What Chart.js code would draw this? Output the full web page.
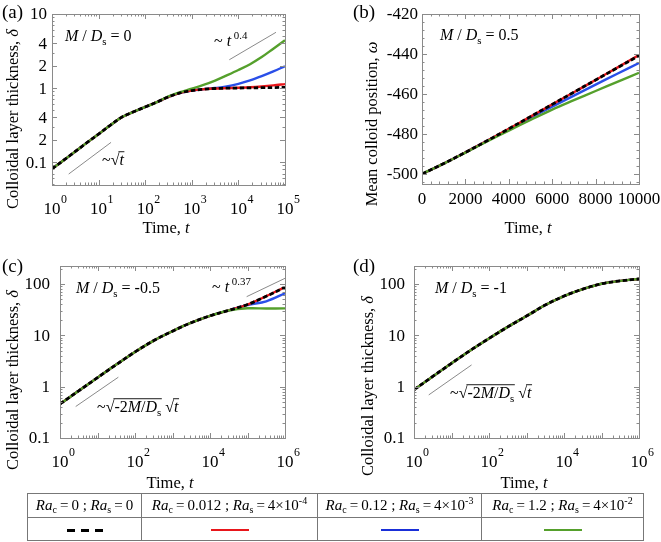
<!DOCTYPE html>
<html><head><meta charset="utf-8">
<script src="https://cdn.jsdelivr.net/npm/chart.js@4.4.1/dist/chart.umd.min.js"></script>
<style>
html,body{margin:0;padding:0;background:#fff}
#wrap{position:relative;width:661px;height:542px;overflow:hidden;font-family:"Liberation Serif","Times New Roman",serif;color:#000}
#wrap canvas{position:absolute;left:0;top:0}
#leg{position:absolute;left:27px;top:493px;width:616px;border-collapse:collapse;table-layout:fixed;font-size:15px}
#leg td{border:1px solid #777;text-align:center;padding:0;white-space:nowrap;line-height:15px}
#leg sub,#leg sup{font-size:10px;line-height:0}
#leg sub{vertical-align:-3px}
#leg sup{vertical-align:6px}
.smp{display:inline-block;width:38px;height:2.5px;vertical-align:middle}
.dsh{display:inline-block;width:36px;height:3px;vertical-align:middle;background:repeating-linear-gradient(90deg,#000 0 8px,transparent 8px 14px)}
</style></head>
<body><div id="wrap">
<canvas id="cA" width="661" height="542"></canvas>
<canvas id="cB" width="661" height="542"></canvas>
<canvas id="cC" width="661" height="542"></canvas>
<canvas id="cD" width="661" height="542"></canvas>
<table id="leg">
<colgroup><col style="width:114px"><col style="width:176px"><col style="width:164px"><col style="width:162px"></colgroup>
<tr style="height:24px">
<td><i>Ra</i><sub>c</sub>&thinsp;=&thinsp;0 ; <i>Ra</i><sub>s</sub>&thinsp;=&thinsp;0</td>
<td><i>Ra</i><sub>c</sub>&thinsp;=&thinsp;0.012 ; <i>Ra</i><sub>s</sub>&thinsp;=&thinsp;4×10<sup>-4</sup></td>
<td><i>Ra</i><sub>c</sub>&thinsp;=&thinsp;0.12 ; <i>Ra</i><sub>s</sub>&thinsp;=&thinsp;4×10<sup>-3</sup></td>
<td><i>Ra</i><sub>c</sub>&thinsp;=&thinsp;1.2 ; <i>Ra</i><sub>s</sub>&thinsp;=&thinsp;4×10<sup>-2</sup></td>
</tr>
<tr style="height:23px">
<td><span class="dsh"></span></td>
<td><span class="smp" style="background:#e8161b"></span></td>
<td><span class="smp" style="background:#1a2fd8"></span></td>
<td><span class="smp" style="background:#55a02c"></span></td>
</tr>
</table>
</div>
<script>
// ---------- DATA ----------
// Panel (a): M/Ds = 0, log-log
const timeA = [1, 1.78, 3.16, 5.62, 10, 17.8, 31.6, 56.2, 100, 178, 316, 562, 1000, 1780, 3160, 5620, 10000, 17800, 31600, 56200, 100000];
const deltaA_Ra0    = [0.081, 0.106, 0.139, 0.183, 0.239, 0.314, 0.405, 0.477, 0.555, 0.645, 0.76, 0.86, 0.925, 0.962, 0.985, 0.995, 1.0, 1.005, 1.01, 1.015, 1.02];
const deltaA_Ra0012 = [0.081, 0.106, 0.139, 0.183, 0.239, 0.314, 0.405, 0.477, 0.555, 0.645, 0.76, 0.86, 0.925, 0.962, 0.985, 0.997, 1.01, 1.025, 1.05, 1.085, 1.13];
const deltaA_Ra012  = [0.081, 0.106, 0.139, 0.183, 0.239, 0.314, 0.405, 0.477, 0.555, 0.645, 0.76, 0.86, 0.925, 0.965, 1.0, 1.05, 1.14, 1.27, 1.45, 1.68, 1.97];
const deltaA_Ra12   = [0.081, 0.106, 0.139, 0.183, 0.239, 0.314, 0.405, 0.477, 0.555, 0.645, 0.77, 0.88, 0.98, 1.10, 1.26, 1.48, 1.75, 2.10, 2.62, 3.40, 4.41];
const refA_sqrt_t = [2.28, 18.5],  refA_sqrt_d = [0.0689, 0.1845];
const refA_pow_t  = [6380, 64100], refA_pow_d  = [2.41, 5.66];

// Panel (b): M/Ds = 0.5, linear
const timeB = [0, 1000, 2000, 3000, 4000, 5000, 6000, 7000, 8000, 9000, 10000];
const omegaB_Ra0    = [-500, -494.8, -489.2, -483.4, -477.4, -471.3, -465.2, -459.1, -453.0, -446.9, -440.8];
const omegaB_Ra0012 = [-500, -494.8, -489.2, -483.4, -477.4, -471.3, -465.2, -459.1, -453.0, -446.8, -440.5];
const omegaB_Ra012  = [-500, -494.8, -489.2, -483.4, -477.6, -471.9, -466.3, -460.8, -455.3, -449.9, -444.5];
const omegaB_Ra12   = [-500, -494.8, -489.3, -483.7, -478.3, -473.0, -467.8, -463.1, -458.5, -453.9, -449.4];

// Panel (c): M/Ds = -0.5, log-log
const timeC = [1, 3.16, 10, 31.6, 100, 316, 1000, 3160, 10000, 31600, 100000, 316000, 1000000];
const deltaC_Ra0    = [0.46, 0.83, 1.50, 2.69, 4.75, 7.9, 12.05, 17.6, 24.0, 30.6, 39.8, 57.5, 86];
const deltaC_Ra0012 = [0.46, 0.83, 1.50, 2.69, 4.75, 7.9, 12.05, 17.6, 24.0, 30.6, 39.8, 57.8, 87];
const deltaC_Ra012  = [0.46, 0.83, 1.50, 2.69, 4.75, 7.9, 12.05, 17.6, 24.0, 30.6, 39.0, 46.0, 66];
const deltaC_Ra12   = [0.46, 0.83, 1.50, 2.69, 4.75, 7.9, 12.05, 17.6, 24.0, 30.4, 33.6, 33.3, 33.5];
const refC_sqrt_t = [2.62, 36],       refC_sqrt_d = [0.41, 1.53];
const refC_pow_t  = [95000, 1000000], refC_pow_d  = [56.6, 129];

// Panel (d): M/Ds = -1, log-log
const timeD = [1, 3.16, 10, 31.6, 100, 316, 1000, 3160, 10000, 31600, 100000, 316000, 1000000];
const deltaD_Ra0    = [0.87, 1.58, 2.85, 5.07, 8.7, 14.6, 23.7, 38.9, 58.2, 79.4, 101, 115, 125];
const deltaD_Ra0012 = [0.87, 1.58, 2.85, 5.07, 8.7, 14.6, 23.7, 38.9, 58.2, 79.4, 101, 115, 125];
const deltaD_Ra012  = [0.87, 1.58, 2.85, 5.07, 8.7, 14.6, 23.7, 38.9, 58.2, 79.4, 101, 115, 125];
const deltaD_Ra12   = [0.87, 1.58, 2.85, 5.07, 8.7, 14.6, 23.7, 38.9, 58.2, 79.4, 101, 115, 125];
const refD_sqrt_t = [2.47, 34.3], refD_sqrt_d = [0.69, 2.65];

// Tick labels
const ticksA_x = [1, 10, 100, 1000, 10000, 100000];   const expA_x = ['0','1','2','3','4','5'];
const ticksA_y = [0.1, 0.2, 0.4, 1, 2, 4, 10];         const labA_y = ['0.1','2','4','1','2','4','10'];
const ticksB_x = [0, 2000, 4000, 6000, 8000, 10000];   const labB_x = ['0','2000','4000','6000','8000','10000'];
const ticksB_y = [-500, -480, -460, -440, -420];       const labB_y = ['-500','-480','-460','-440','-420'];
const ticksCD_x = [1, 100, 10000, 1000000];            const expCD_x = ['0','2','4','6'];
const ticksCD_y = [0.1, 1, 10, 100];                   const labCD_y = ['0.1','1','10','100'];

// ---------- RENDERING ----------
const FF = '"Liberation Serif", "Times New Roman", serif';
const COL = {black:'#000000', red:'#e8161b', blue:'#2a4fe8', green:'#55a02c', ref:'#8a8a8a', frame:'#8a8a8a'};

function pts(xs, ys){ return xs.map((x,i)=>({x:x, y:ys[i]})); }
function series(t, k, r, b, g, refs){
  const ds = [
    {data:pts(t,b), borderColor:COL.blue, order:3},
    {data:pts(t,r), borderColor:COL.red, order:2},
    {data:pts(t,g), borderColor:COL.green, order:1},
    {data:pts(t,k), borderColor:COL.black, borderWidth:2.8, borderDash:[4.5,2.5], order:0}
  ];
  (refs||[]).forEach(rf => ds.push({data:pts(rf[0],rf[1]), borderColor:COL.ref, borderWidth:1, order:5, tension:0}));
  return ds.map(d => Object.assign({showLine:true, pointRadius:0, fill:false, borderWidth:2.4, tension:0.35}, d));
}

function drawRich(ctx, parts, x, y, size, align){
  const segs = []; let total = 0;
  for (const p of parts){
    const txt = p[0], st = p[1] || '';
    const sub = st.includes('b'), sup = st.includes('p');
    const s = (sub||sup) ? size*0.68 : size;
    const font = (st.includes('i') ? 'italic ' : '') + s.toFixed(2) + 'px ' + FF;
    ctx.font = font;
    const w = ctx.measureText(txt).width;
    const m = st.match(/o(\d)/);
    segs.push({txt, font, w, dy: sub ? size*0.28 : (sup ? -size*0.45 : 0), ov: m ? m[1] : null});
    total += w;
  }
  let cx = align==='center' ? x-total/2 : (align==='right' ? x-total : x);
  ctx.textAlign='left'; ctx.textBaseline='alphabetic'; ctx.fillStyle='#000';
  const groups = {};
  for (const sg of segs){
    ctx.font = sg.font;
    ctx.fillText(sg.txt, cx, y+sg.dy);
    if (sg.ov){ const g = groups[sg.ov] || (groups[sg.ov] = {x0:cx, x1:cx}); g.x1 = cx+sg.w; }
    cx += sg.w;
  }
  ctx.strokeStyle='#000'; ctx.lineWidth=0.9;
  for (const k in groups){
    const g = groups[k];
    ctx.beginPath(); ctx.moveTo(g.x0-1, y-size*0.83); ctx.lineTo(g.x1+0.5, y-size*0.83); ctx.stroke();
  }
  return total;
}

function logMinor(lo, hi){
  const out = [];
  for (let e = Math.floor(Math.log10(lo)); e <= Math.ceil(Math.log10(hi)); e++)
    for (let d = 1; d <= 9; d++){ const v = d*Math.pow(10,e); if (v>=lo*0.999 && v<=hi*1.001) out.push(v); }
  return out;
}
function linMinor(lo, hi, step){
  const out = []; for (let v = Math.ceil(lo/step)*step; v <= hi+1e-9; v += step) out.push(v); return out;
}

function decor(cfg){
  return { id:'decor', afterDraw(chart){
    const ctx = chart.ctx, a = chart.chartArea, xs = chart.scales.x, ys = chart.scales.y;
    ctx.save();
    ctx.strokeStyle = COL.frame; ctx.lineWidth = 1;
    const tx = (vals, len) => vals.forEach(v => { const p = Math.round(xs.getPixelForValue(v))+0.5;
      if (p < a.left-1 || p > a.right+1) return;
      ctx.beginPath(); ctx.moveTo(p, a.bottom); ctx.lineTo(p, a.bottom-len); ctx.moveTo(p, a.top); ctx.lineTo(p, a.top+len); ctx.stroke(); });
    const ty = (vals, len) => vals.forEach(v => { const p = Math.round(ys.getPixelForValue(v))+0.5;
      if (p < a.top-1 || p > a.bottom+1) return;
      ctx.beginPath(); ctx.moveTo(a.left, p); ctx.lineTo(a.left+len, p); ctx.moveTo(a.right, p); ctx.lineTo(a.right-len, p); ctx.stroke(); });
    tx(cfg.xMinor, 2.5); tx(cfg.xMajor, 5);
    ty(cfg.yMinor, 2.5); ty(cfg.yMajor, 5);
    ctx.strokeRect(Math.round(a.left)+0.5, Math.round(a.top)+0.5, Math.round(a.right-a.left), Math.round(a.bottom-a.top));
    ctx.fillStyle='#000'; ctx.textBaseline='middle'; ctx.textAlign='right';
    ctx.font = cfg.tickSize + 'px ' + FF;
    cfg.yTicks.forEach((v,i) => ctx.fillText(cfg.yLabels[i], cfg.yLabelX, ys.getPixelForValue(v)+1));
    ctx.textBaseline='alphabetic';
    cfg.xTicks.forEach((v,i) => {
      const p = xs.getPixelForValue(v);
      if (cfg.xExp){
        ctx.font = cfg.tickSize + 'px ' + FF; ctx.textAlign='center';
        ctx.fillText('10', p, cfg.xLabelY);
        const w = ctx.measureText('10').width;
        ctx.font = (cfg.tickSize*0.7).toFixed(2) + 'px ' + FF; ctx.textAlign='left';
        ctx.fillText(cfg.xExp[i], p + w/2 + 0.5, cfg.xLabelY - cfg.tickSize*0.62);
      } else {
        ctx.font = cfg.tickSize + 'px ' + FF; ctx.textAlign='center';
        ctx.fillText(cfg.xLabels[i], p, cfg.xLabelY);
      }
    });
    drawRich(ctx, [['Time, '],['t','i']], cfg.xTitle[0], cfg.xTitle[1], 16.5, 'center');
    ctx.save(); ctx.translate(cfg.yTitle[0], cfg.yTitle[1]); ctx.rotate(-Math.PI/2);
    drawRich(ctx, cfg.yTitleParts, 0, 0, 16.5, 'center'); ctx.restore();
    drawRich(ctx, [[cfg.letter]], cfg.letterPos[0], cfg.letterPos[1], 19, 'left');
    cfg.texts.forEach(t => drawRich(ctx, t.parts, t.x, t.y, t.size||16, 'left'));
    ctx.restore();
  }};
}

function makeChart(id, cfg){
  return new Chart(document.getElementById(id), {
    type:'scatter',
    data:{datasets:cfg.datasets},
    options:{
      responsive:false, animation:false, devicePixelRatio:1,
      layout:{padding:{left:cfg.area[0], top:cfg.area[1], right:661-cfg.area[2], bottom:542-cfg.area[3]}},
      scales:{
        x:{type:cfg.xType, min:cfg.xRange[0], max:cfg.xRange[1], display:false},
        y:{type:cfg.yType, min:cfg.yRange[0], max:cfg.yRange[1], display:false}
      },
      plugins:{legend:{display:false}, tooltip:{enabled:false}}
    },
    plugins:[decor(cfg)]
  });
}

const deltaTitle = [['Colloidal layer thickness, '],['δ','i']];
const MD = [['M','i'],[' / '],['D','i'],['s','b']];
const sqrtMD = [['~'],['√'],['-2','o1'],['M','i o1'],['/','o1'],['D','i o1'],['s','b o1'],[' '],['√'],['t','i o2']];

makeChart('cA', {
  area:[52,14,285,185], xType:'logarithmic', yType:'logarithmic', xRange:[1,1e5], yRange:[0.049,10],
  datasets: series(timeA, deltaA_Ra0, deltaA_Ra0012, deltaA_Ra012, deltaA_Ra12, [[refA_sqrt_t,refA_sqrt_d],[refA_pow_t,refA_pow_d]]),
  xMajor: ticksA_x, xMinor: logMinor(1,1e5), yMajor: ticksA_y, yMinor: logMinor(0.049,10),
  xTicks: ticksA_x, xExp: expA_x, yTicks: ticksA_y, yLabels: labA_y,
  tickSize:17, yLabelX:47, xLabelY:214,
  xTitle:[166,233], yTitle:[18,119], yTitleParts: deltaTitle,
  letter:'(a)', letterPos:[2,18],
  texts:[
    {x:65, y:41, parts: MD.concat([[' = 0']])},
    {x:214, y:46, parts:[['~ '],['t','i'],[' 0.4','p']]},
    {x:102, y:165, parts:[['~'],['√'],['t','i o1']]}
  ]
});

makeChart('cB', {
  area:[422,14,639,184], xType:'linear', yType:'linear', xRange:[0,10000], yRange:[-505,-420],
  datasets: series(timeB, omegaB_Ra0, omegaB_Ra0012, omegaB_Ra012, omegaB_Ra12, []),
  xMajor: ticksB_x, xMinor: linMinor(0,10000,400), yMajor: ticksB_y, yMinor: linMinor(-505,-420,4),
  xTicks: ticksB_x, xLabels: labB_x, yTicks: ticksB_y, yLabels: labB_y,
  tickSize:17, yLabelX:418, xLabelY:204,
  xTitle:[528,233], yTitle:[377,124], yTitleParts: [['Mean colloid position, '],['ω','i']],
  letter:'(b)', letterPos:[353,18],
  texts:[ {x:440, y:40, parts: MD.concat([[' = 0.5']])} ]
});

makeChart('cC', {
  area:[60,266,285,438], xType:'logarithmic', yType:'logarithmic', xRange:[1,1e6], yRange:[0.1,224],
  datasets: series(timeC, deltaC_Ra0, deltaC_Ra0012, deltaC_Ra012, deltaC_Ra12, [[refC_sqrt_t,refC_sqrt_d],[refC_pow_t,refC_pow_d]]),
  xMajor: [1,10,100,1e3,1e4,1e5,1e6], xMinor: logMinor(1,1e6), yMajor: ticksCD_y, yMinor: logMinor(0.1,224),
  xTicks: ticksCD_x, xExp: expCD_x, yTicks: ticksCD_y, yLabels: labCD_y,
  tickSize:17, yLabelX:50, xLabelY:467,
  xTitle:[170,488], yTitle:[18,380], yTitleParts: deltaTitle,
  letter:'(c)', letterPos:[2,272],
  texts:[
    {x:76, y:293, parts: MD.concat([[' = -0.5']])},
    {x:212, y:292, parts:[['~ '],['t','i'],[' 0.37','p']]},
    {x:97, y:412, parts: sqrtMD}
  ]
});

makeChart('cD', {
  area:[414,266,639,438], xType:'logarithmic', yType:'logarithmic', xRange:[1,1e6], yRange:[0.1,224],
  datasets: series(timeD, deltaD_Ra0, deltaD_Ra0012, deltaD_Ra012, deltaD_Ra12, [[refD_sqrt_t,refD_sqrt_d]]),
  xMajor: [1,10,100,1e3,1e4,1e5,1e6], xMinor: logMinor(1,1e6), yMajor: ticksCD_y, yMinor: logMinor(0.1,224),
  xTicks: ticksCD_x, xExp: expCD_x, yTicks: ticksCD_y, yLabels: labCD_y,
  tickSize:17, yLabelX:405, xLabelY:467,
  xTitle:[524,488], yTitle:[373,386], yTitleParts: deltaTitle,
  letter:'(d)', letterPos:[353,272],
  texts:[
    {x:435, y:293, parts: MD.concat([[' = -1']])},
    {x:450, y:398, parts: sqrtMD}
  ]
});
</script>
</body></html>
